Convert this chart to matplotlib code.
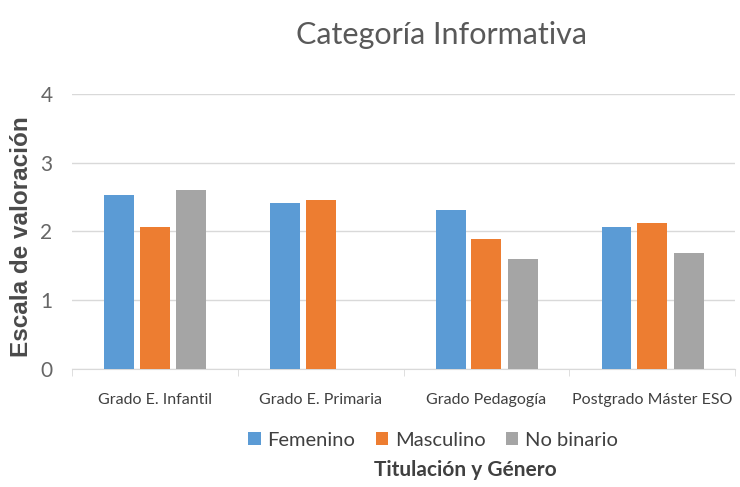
import matplotlib
matplotlib.use("Agg")
import matplotlib.pyplot as plt
import numpy as np

# data
categorias = ["Grado E. Infantil", "Grado E. Primaria", "Grado Pedagogía", "Postgrado Máster ESO"]
femenino = [2.53, 2.42, 2.31, 2.06]
masculino = [2.07, 2.46, 1.89, 2.12]
no_binario = [2.61, np.nan, 1.60, 1.68]
series = ["Femenino", "Masculino", "No binario"]
colores = ["#5B9BD5", "#ED7D31", "#A5A5A5"]

plt.rcParams['font.family'] = ['Lato', 'DejaVu Sans']

fig = plt.figure(figsize=(7.4, 4.87), dpi=100)
ax = fig.add_axes([0.0973, 0.2423, 0.896, 0.5647])

x = np.arange(len(categorias))
ancho = 0.18
offsets = [-0.215, 0.0, 0.22]
for vals, nombre, col, off in zip([femenino, masculino, no_binario], series, colores, offsets):
    ax.bar(x + off, vals, width=ancho, color=col, label=nombre, zorder=3)

ax.set_xlim(-0.5, 3.5)
ax.set_ylim(0, 4)
ax.set_yticks([0, 1, 2, 3, 4])
ax.grid(axis='y', color='#d9d9d9', linewidth=1, zorder=0)
for s in ['top', 'right', 'left']:
    ax.spines[s].set_visible(False)
ax.spines['bottom'].set_color('#d9d9d9')
ax.tick_params(axis='y', length=0, labelsize=15, labelcolor='#666666', pad=14)

ax.set_xticks(x)
ax.set_xticklabels(categorias, fontsize=11.5, color='#404040')
ax.tick_params(axis='x', which='major', length=0, pad=17)
ax.set_xticks(np.arange(-0.5, 4.0, 1.0), minor=True)
ax.tick_params(axis='x', which='minor', length=5, color='#d9d9d9')

fig.text(22 / 740, 1 - 237 / 487, "Escala de valoración", fontsize=17.5, fontweight='bold',
         color='#4a4a4a', family=['Liberation Sans', 'DejaVu Sans'],
         rotation=90, ha='center', va='center')

fig.text(441 / 740, 1 - 35 / 487, "Categoría Informativa", fontsize=22, color='#595959',
         ha='center', va='center')

fig.legend(loc='center', bbox_to_anchor=(433 / 740, 1 - 440 / 487), ncol=3, frameon=False,
           fontsize=14.5, handlelength=0.6, handleheight=0.6, handletextpad=0.35,
           columnspacing=1.0, labelcolor='#404040')

fig.text(465 / 740, 1 - 470 / 487, "Titulación y Género", fontsize=15, fontweight='bold',
         color='#404040', ha='center', va='center')

fig.savefig("out.png", dpi=100)
